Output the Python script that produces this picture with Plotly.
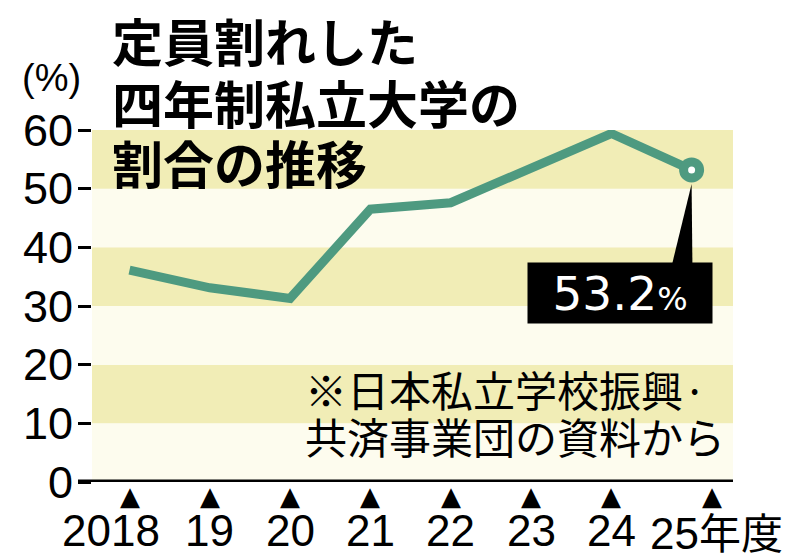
import plotly.graph_objects as go

# ---- data ----
years = [2018, 2019, 2020, 2021, 2022, 2023, 2024, 2025]
values = [36.1, 33.1, 31.3, 46.5, 47.6, 53.5, 59.4, 53.2]
x_labels = ["2018", "19", "20", "21", "22", "23", "24", "25"]
y_ticks = [0, 10, 20, 30, 40, 50, 60]
title_lines = ["定員割れした", "四年制私立大学の", "割合の推移"]
source_lines = ["※日本私立学校振興·", "共済事業団の資料から"]
callout_text = "53.2"

# ---- style ----
LINE = "#4e9a80"
YEL = "#f1edb6"
LIGHT = "#fdfcee"
W, H = 800, 559
L, R, T, B = 92, 733, 130, 482
X0, X1 = 2017.533, 2025.5156


def px(xp):
    return (xp - L) / (R - L)


def py(yp):
    return (B - yp) / (B - T)


fig = go.Figure()

# main line
fig.add_trace(go.Scatter(x=years, y=values, mode="lines",
                         line=dict(color=LINE, width=9),
                         cliponaxis=False, hoverinfo="skip"))
# end marker
fig.add_trace(go.Scatter(x=[years[-1]], y=[values[-1]], mode="markers",
                         marker=dict(color=LINE, size=25, line=dict(width=0)),
                         cliponaxis=False, hoverinfo="skip"))
fig.add_trace(go.Scatter(x=[years[-1]], y=[values[-1]], mode="markers",
                         marker=dict(color="white", size=7, line=dict(width=0)),
                         cliponaxis=False, hoverinfo="skip"))

shapes = []
# bands
for i in range(6):
    shapes.append(dict(type="rect", xref="paper", yref="y", x0=0, x1=1,
                       y0=i * 10, y1=(i + 1) * 10,
                       fillcolor=YEL if i % 2 == 1 else LIGHT,
                       line=dict(width=0), layer="below"))
# callout wedge
box_top = 37.3
xl = years[-1]
vl = values[-1]
shapes.append(dict(type="path", xref="x", yref="y",
                   path=f"M {xl},{vl - 2.4} L {xl - 0.24},{box_top} L {xl + 0.01},{box_top} Z",
                   fillcolor="black", line=dict(width=0), layer="below"))
# axis line
shapes.append(dict(type="line", xref="paper", yref="y", x0=px(78), x1=1, y0=0, y1=0,
                   line=dict(color="black", width=5), layer="above"))

ann = []
# title
for line, yc in zip(title_lines, [40, 102, 162]):
    ann.append(dict(text=line, xref="paper", yref="paper", x=px(110), y=py(yc),
                    xanchor="left", yanchor="middle", showarrow=False,
                    font=dict(family="Noto Sans CJK JP", size=51, color="black",
                              weight="bold")))
# (%)
ann.append(dict(text="(%)", xref="paper", yref="paper", x=px(51), y=py(78),
                xanchor="center", yanchor="middle", showarrow=False,
                font=dict(family="Liberation Sans", size=38, color="black")))
# triangles under the axis
tri_x = years[:-1] + [years[-1] + 0.26]
for tx in tri_x:
    ann.append(dict(text="▲", xref="x", yref="paper", x=tx, y=py(496),
                    xanchor="center", yanchor="middle", showarrow=False,
                    font=dict(family="DejaVu Sans", size=26, color="black")))
# x labels
for i, (yr, lab) in enumerate(zip(years, x_labels)):
    if i == len(years) - 1:
        ann.append(dict(text=lab + "<span style='font-family:Noto Sans CJK JP;font-size:42px'>年度</span>",
                        xref="x", yref="paper", x=yr, y=py(530), xshift=-44,
                        xanchor="left", yanchor="middle", showarrow=False,
                        font=dict(family="Liberation Sans", size=44, color="black")))
    else:
        ann.append(dict(text=lab, xref="x", yref="paper", x=yr, y=py(530),
                        xshift=-19 if i == 0 else 0,
                        xanchor="center", yanchor="middle", showarrow=False,
                        font=dict(family="Liberation Sans", size=44, color="black")))
# source note
for line, yc in zip(source_lines, [388, 435]):
    ann.append(dict(text=line, xref="paper", yref="paper", x=px(303), y=py(yc),
                    xanchor="left", yanchor="middle", showarrow=False,
                    font=dict(family="Noto Sans CJK JP", size=42, color="black")))
# callout box
ann.append(dict(text=callout_text + "<span style='font-size:32px'>%</span>",
                xref="x", yref="y", x=xl - 0.89, y=vl - 20.9,
                xanchor="center", yanchor="middle", showarrow=False,
                width=184, height=60, bgcolor="black", borderpad=0,
                font=dict(family="DejaVu Sans", size=47, color="white")))

fig.update_layout(
    width=W, height=H,
    margin=dict(l=L, r=W - R, t=T, b=H - B, pad=0),
    paper_bgcolor="white", plot_bgcolor="white",
    showlegend=False,
    shapes=shapes, annotations=ann,
    xaxis=dict(range=[X0, X1], showgrid=False, zeroline=False, showline=False,
               showticklabels=False, ticks="", fixedrange=True),
    yaxis=dict(range=[0, 60], tickvals=y_ticks, ticktext=[str(v) for v in y_ticks],
               showgrid=False, zeroline=False, showline=False,
               ticks="outside", ticklen=13, tickwidth=2.5, tickcolor="black",
               ticklabelstandoff=-4,
               tickfont=dict(family="Liberation Sans", size=45, color="black"),
               fixedrange=True),
)

fig.write_html("out.html", config={"displayModeBar": False})
